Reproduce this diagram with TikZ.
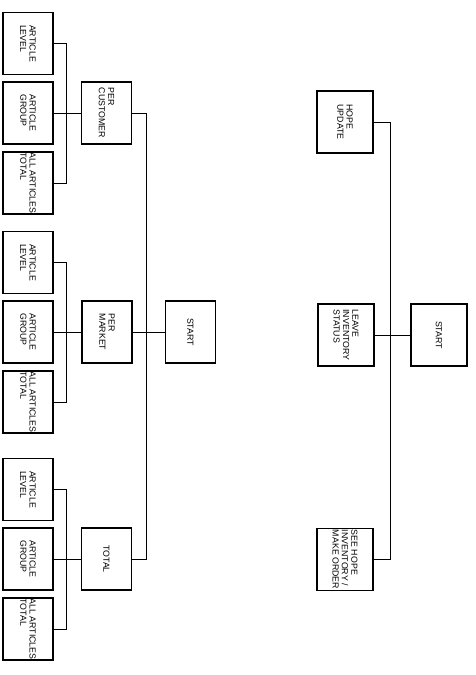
\documentclass[tikz,border=0pt]{standalone}
\usepackage{fontspec}
\setmainfont{Liberation Sans}
\usetikzlibrary{calc}

\tikzset{
    box/.style={draw, line width=1.2pt, rotate=-90, align=left, inner sep=0.5pt,
        minimum width=1.86cm, minimum height=1.5cm, font=\fontsize{7.5}{8}\selectfont},
    widebox/.style={box, minimum height=1.68cm},
    wire/.style={line width=0.6pt},
}

\begin{document}
\begin{tikzpicture}[x=0.03cm, y=-0.03cm]
    \useasboundingbox (0, 0) rectangle (475, 675);

    % per customer
    \begin{scope}[shift={(0,0)}]
    \node [box] (lvlA) at (28, 43.5) {ARTICLE\\LEVEL};
    \node [box] (grpA) at (28, 113) {ARTICLE\\GROUP};
    \node [box] (allA) at (28, 183) {ALL ARTICLES\\TOTAL};
    \node [box] (cust) at (106.5, 113) {PER\\CUSTOMER};
    \draw[wire] (lvlA.north) -- ++(13, 0) |- (allA.north);
    \draw[wire] (grpA.north) -- (cust.south);
    \end{scope}

    % per market
    \begin{scope}[shift={(0,219)}]
    \node [box] (lvlB) at (28, 43.5) {ARTICLE\\LEVEL};
    \node [box] (grpB) at (28, 113) {ARTICLE\\GROUP};
    \node [box] (allB) at (28, 183) {ALL ARTICLES\\TOTAL};
    \node [box] (mkt) at (107, 113) {PER\\MARKET};
    \draw[wire] (lvlB.north) -- ++(13, 0) |- (allB.north);
    \draw[wire] (grpB.north) -- (mkt.south);
    \end{scope}

    % total
    \begin{scope}[shift={(0,446)}]
    \node [box] (lvlC) at (28, 43.5) {ARTICLE\\LEVEL};
    \node [box] (grpC) at (28, 113) {ARTICLE\\GROUP};
    \node [box] (allC) at (28, 183) {ALL ARTICLES\\TOTAL};
    \node [box] (tot) at (106.5, 113) {TOTAL};
    \draw[wire] (lvlC.north) -- ++(13, 0) |- (allC.north);
    \draw[wire] (grpC.north) -- (tot.south);
    \end{scope}

    \node [box] (start) at (190.5, 332) {START};
    \draw[wire] (cust.north) -- ++(14, 0) |- (tot.north);
    \draw[wire] (mkt.north) -- (start.south);

    % right tree
    \node [widebox] (hope) at (345, 122) {HOPE\\UPDATE};
    \node [widebox] (leave) at (346, 335) {LEAVE\\INVENTORY\\STATUS};
    \node [widebox] (see) at (345, 559.5) {SEE HOPE\\INVENTORY /\\MAKE ORDER};
    \node [widebox] (rstart) at (439, 335) {START};
    \draw[wire] (hope.north) -- ++(17, 0) |- (see.north);
    \draw[wire] (leave.north) -- (rstart.south);
\end{tikzpicture}
\end{document}
